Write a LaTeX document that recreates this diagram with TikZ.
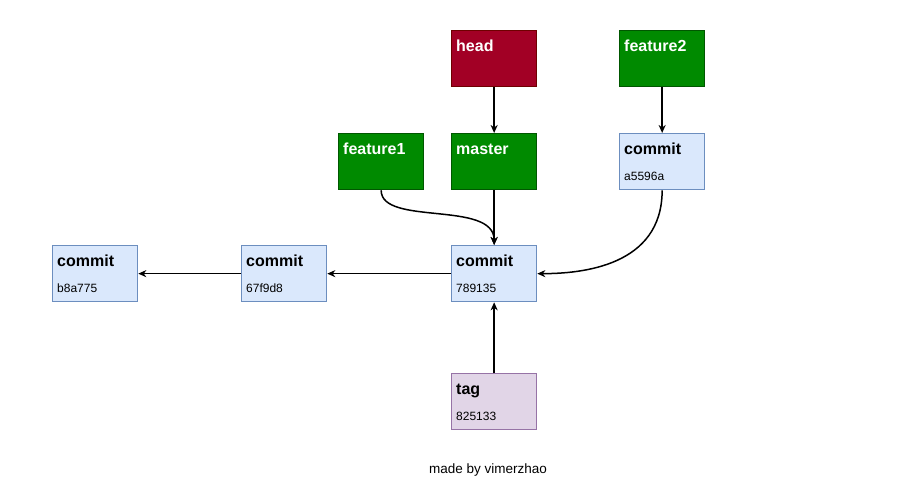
\documentclass[tikz,border=0pt]{standalone}
\usepackage{fontspec}
\setmainfont{Liberation Sans}
\usetikzlibrary{arrows.meta}
\definecolor{cfill}{HTML}{DAE8FC}
\definecolor{cline}{HTML}{6C8EBF}
\definecolor{gfill}{HTML}{008A00}
\definecolor{gline}{HTML}{005700}
\definecolor{rfill}{HTML}{A20025}
\definecolor{rline}{HTML}{6F0000}
\definecolor{tfill}{HTML}{E1D5E7}
\definecolor{tline}{HTML}{9673A6}
\begin{document}
\begin{tikzpicture}[x=1pt,y=-1pt,
  box/.style={draw, line width=1.3pt, anchor=north west, minimum width=85pt, minimum height=56pt, inner sep=0pt},
  commitbox/.style={box, fill=cfill, draw=cline},
  branchbox/.style={box, fill=gfill, draw=gline},
  headbox/.style={box, fill=rfill, draw=rline},
  tagbox/.style={box, fill=tfill, draw=tline},
  ttl/.style={anchor=base west, inner sep=0pt, font=\fontsize{16}{19}\selectfont\bfseries},
  wttl/.style={ttl, text=white},
  hsh/.style={anchor=base west, inner sep=0pt, font=\fontsize{12}{14}\selectfont},
  arr/.style={-{Stealth[length=8pt,width=7pt,inset=2.5pt]}, line width=1.5pt}
]
\useasboundingbox (0,0) rectangle (910,501);
% boxes
\node[headbox] (head) at (451,30) {};
\node[branchbox] (f2) at (619,30) {};
\node[branchbox] (f1) at (338,133) {};
\node[branchbox] (master) at (451,133) {};
\node[commitbox] (ca) at (619,133) {};
\node[commitbox] (c7) at (451,245) {};
\node[commitbox] (c6) at (241,245) {};
\node[commitbox] (cb) at (52,245) {};
\node[tagbox] (tag) at (451,373) {};
% texts
\node[wttl] (thead) at ([xshift=5pt,yshift=-21pt]head.north west) {head};
\node[wttl] (tf2) at ([xshift=5pt,yshift=-21pt]f2.north west) {feature2};
\node[wttl] (tf1) at ([xshift=5pt,yshift=-21pt]f1.north west) {feature1};
\node[wttl] (tmaster) at ([xshift=5pt,yshift=-21pt]master.north west) {master};
\node[ttl] (tca) at ([xshift=5pt,yshift=-21pt]ca.north west) {commit};
\node[hsh] (hca) at ([xshift=5pt,yshift=-47pt]ca.north west) {a5596a};
\node[ttl] (tc7) at ([xshift=5pt,yshift=-21pt]c7.north west) {commit};
\node[hsh] (hc7) at ([xshift=5pt,yshift=-47pt]c7.north west) {789135};
\node[ttl] (tc6) at ([xshift=5pt,yshift=-21pt]c6.north west) {commit};
\node[hsh] (hc6) at ([xshift=5pt,yshift=-47pt]c6.north west) {67f9d8};
\node[ttl] (tcb) at ([xshift=5pt,yshift=-21pt]cb.north west) {commit};
\node[hsh] (hcb) at ([xshift=5pt,yshift=-47pt]cb.north west) {b8a775};
\node[ttl] (ttag) at ([xshift=5pt,yshift=-21pt]tag.north west) {tag};
\node[hsh] (htag) at ([xshift=5pt,yshift=-47pt]tag.north west) {825133};
\node[anchor=base, inner sep=0pt, font=\fontsize{13.5}{16}\selectfont] (credit) at (488,473) {made by vimerzhao};
% connectors
\draw[arr] (head.south) -- (master.north);
\draw[arr] (f2.south) -- (ca.north);
\draw[arr] (master.south) -- (c7.north);
\draw[arr] (f1.south) .. controls ([yshift=-36pt]f1.south) and ([yshift=45pt]c7.north) .. (c7.north);
\draw[arr] (ca.south) .. controls ([yshift=-76pt]ca.south) and ([xshift=44pt]c7.east) .. (c7.east);
\draw[arr] (c7.west) -- (c6.east);
\draw[arr] (c6.west) -- (cb.east);
\draw[arr] (tag.north) -- (c7.south);
\end{tikzpicture}
\end{document}
